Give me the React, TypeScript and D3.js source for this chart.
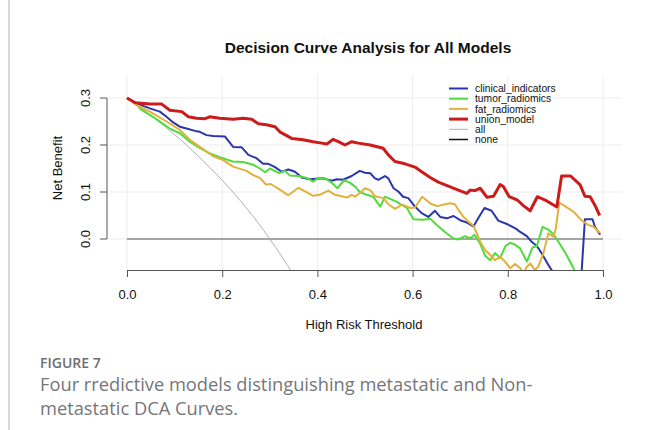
// App.tsx - Decision curve analysis chart drawn with D3
import { useEffect, useRef } from 'react';
import * as d3 from 'd3';

type Pt = [number, number]; // [threshold, net benefit]

// Values
const clinicalIndicators: Pt[] = [
    [0, 0.300], [0.024, 0.287], [0.048, 0.278], [0.069, 0.271], [0.083, 0.260], [0.097, 0.248],
    [0.111, 0.239], [0.125, 0.235], [0.143, 0.230], [0.153, 0.228], [0.167, 0.221], [0.181, 0.219],
    [0.206, 0.218], [0.223, 0.196], [0.241, 0.195], [0.255, 0.179], [0.272, 0.172], [0.286, 0.160],
    [0.297, 0.160], [0.311, 0.153], [0.325, 0.143], [0.339, 0.148], [0.353, 0.143], [0.367, 0.131],
    [0.384, 0.127], [0.412, 0.129], [0.430, 0.124], [0.441, 0.127], [0.454, 0.126], [0.472, 0.134],
    [0.489, 0.145], [0.500, 0.141], [0.511, 0.140], [0.521, 0.129], [0.528, 0.126], [0.542, 0.134],
    [0.549, 0.129], [0.560, 0.108], [0.570, 0.101], [0.580, 0.090], [0.591, 0.087], [0.605, 0.069],
    [0.619, 0.055], [0.633, 0.047], [0.647, 0.060], [0.658, 0.047], [0.672, 0.044], [0.686, 0.049],
    [0.700, 0.040], [0.714, 0.035], [0.728, 0.027], [0.740, 0.048], [0.751, 0.066], [0.766, 0.060],
    [0.780, 0.039], [0.798, 0.032], [0.817, 0.022], [0.826, 0.015], [0.840, 0.006], [0.850, -0.006],
    [0.861, -0.015], [0.871, -0.030], [0.885, -0.055], [0.896, -0.072], [0.910, -0.110], [0.930, -0.150],
    [0.952, -0.120], [0.962, 0.042], [0.978, 0.042], [0.983, 0.026], [0.994, 0.009],
];

const tumorRadiomics: Pt[] = [
    [0, 0.300], [0.017, 0.290], [0.029, 0.276], [0.048, 0.264], [0.069, 0.250], [0.090, 0.235],
    [0.111, 0.225], [0.132, 0.207], [0.153, 0.194], [0.174, 0.182], [0.195, 0.174], [0.222, 0.165],
    [0.244, 0.164], [0.265, 0.158], [0.279, 0.150], [0.290, 0.142], [0.300, 0.150], [0.320, 0.140],
    [0.332, 0.145], [0.342, 0.135], [0.360, 0.134], [0.378, 0.130], [0.391, 0.122], [0.402, 0.130],
    [0.416, 0.129], [0.430, 0.120], [0.442, 0.108], [0.456, 0.125], [0.468, 0.120], [0.480, 0.111],
    [0.489, 0.100], [0.504, 0.094], [0.517, 0.090], [0.532, 0.069], [0.542, 0.090], [0.567, 0.079],
    [0.588, 0.066], [0.602, 0.042], [0.622, 0.041], [0.637, 0.043], [0.651, 0.030], [0.668, 0.015],
    [0.686, 0.001], [0.696, -0.001], [0.710, 0.006], [0.721, 0.001], [0.730, 0.009], [0.742, -0.010],
    [0.752, -0.035], [0.763, -0.045], [0.773, -0.030], [0.784, -0.040], [0.795, -0.015], [0.805, -0.008],
    [0.815, -0.012], [0.826, -0.020], [0.840, -0.048], [0.852, -0.018], [0.861, -0.015], [0.873, 0.026],
    [0.885, 0.020], [0.896, 0.010], [0.912, -0.015], [0.924, -0.035], [0.941, -0.068], [0.960, -0.110],
];

const fatRadiomics: Pt[] = [
    [0, 0.300], [0.020, 0.285], [0.048, 0.271], [0.083, 0.250], [0.111, 0.232], [0.132, 0.211],
    [0.153, 0.196], [0.181, 0.176], [0.202, 0.168], [0.223, 0.154], [0.251, 0.145], [0.265, 0.136],
    [0.279, 0.130], [0.292, 0.116], [0.302, 0.117], [0.321, 0.105], [0.339, 0.093], [0.360, 0.109],
    [0.378, 0.099], [0.391, 0.092], [0.405, 0.094], [0.423, 0.103], [0.437, 0.094], [0.451, 0.091],
    [0.462, 0.088], [0.472, 0.094], [0.479, 0.090], [0.493, 0.101], [0.500, 0.108], [0.511, 0.104],
    [0.521, 0.091], [0.539, 0.087], [0.549, 0.074], [0.563, 0.064], [0.578, 0.073], [0.595, 0.066],
    [0.605, 0.067], [0.620, 0.090], [0.638, 0.075], [0.652, 0.070], [0.668, 0.074], [0.679, 0.076],
    [0.689, 0.074], [0.696, 0.062], [0.707, 0.047], [0.717, 0.037], [0.728, 0.028], [0.735, 0.012],
    [0.742, -0.006], [0.752, -0.023], [0.763, -0.034], [0.773, -0.045], [0.784, -0.038], [0.794, -0.048],
    [0.805, -0.062], [0.815, -0.053], [0.826, -0.062], [0.833, -0.072], [0.840, -0.059], [0.847, -0.052],
    [0.857, -0.066], [0.864, -0.059], [0.875, -0.030], [0.885, 0.012], [0.896, 0.005], [0.901, 0.023],
    [0.908, 0.077], [0.917, 0.072], [0.938, 0.058], [0.955, 0.040], [0.969, 0.030], [0.980, 0.026],
    [0.994, 0.013],
];

const unionModel: Pt[] = [
    [0, 0.300], [0.017, 0.290], [0.048, 0.287], [0.073, 0.287], [0.090, 0.274], [0.115, 0.271],
    [0.129, 0.260], [0.146, 0.257], [0.164, 0.256], [0.174, 0.260], [0.195, 0.257], [0.223, 0.255],
    [0.244, 0.257], [0.262, 0.255], [0.276, 0.245], [0.293, 0.243], [0.311, 0.239], [0.321, 0.228],
    [0.346, 0.214], [0.370, 0.211], [0.391, 0.207], [0.409, 0.204], [0.420, 0.202], [0.433, 0.212],
    [0.444, 0.207], [0.458, 0.200], [0.472, 0.207], [0.486, 0.204], [0.511, 0.200], [0.538, 0.193],
    [0.549, 0.179], [0.563, 0.165], [0.584, 0.160], [0.605, 0.153], [0.619, 0.143], [0.637, 0.131],
    [0.654, 0.121], [0.679, 0.111], [0.696, 0.104], [0.714, 0.097], [0.721, 0.104], [0.731, 0.103],
    [0.742, 0.108], [0.756, 0.089], [0.770, 0.091], [0.784, 0.116], [0.791, 0.111], [0.803, 0.090],
    [0.820, 0.083], [0.834, 0.070], [0.847, 0.060], [0.862, 0.090], [0.882, 0.081], [0.903, 0.068],
    [0.913, 0.134], [0.932, 0.134], [0.952, 0.115], [0.962, 0.091], [0.973, 0.090], [0.983, 0.072],
    [0.993, 0.050],
];

const treatAll: Pt[] = [
    [0, 0.300], [0.025, 0.282], [0.05, 0.263], [0.075, 0.243], [0.10, 0.222], [0.125, 0.200],
    [0.15, 0.176], [0.175, 0.151], [0.20, 0.125], [0.225, 0.097], [0.25, 0.067], [0.275, 0.035],
    [0.30, 0.000], [0.325, -0.037], [0.35, -0.077], [0.375, -0.120],
];

const treatNone: Pt[] = [[0, 0], [1, 0]];

const xTicks = [0, 0.2, 0.4, 0.6, 0.8, 1.0];
const yTicks = [0, 0.1, 0.2, 0.3];

const legendLabels = ['clinical_indicators', 'tumor_radiomics', 'fat_radiomics', 'union_model', 'all', 'none'];

const App = () => {
    const svgRef = useRef<SVGSVGElement>(null);

    useEffect(() => {
        if (!svgRef.current) return;
        const svg = d3.select(svgRef.current);
        svg.selectAll('*').remove();

        const font = '"Liberation Sans", Arial, sans-serif';

        // Plot region (R style: axes at the edges of the region)
        const plot = { left: 108, right: 622, top: 75, bottom: 270 };
        const x = d3.scaleLinear().domain([0, 1]).range([127, 603]);
        const y = d3.scaleLinear().domain([0, 0.3]).range([239, 98]);

        svg.append('rect').attr('width', 645).attr('height', 430).attr('fill', 'white');

        // left border of the figure panel
        svg.append('line')
            .attr('x1', 9).attr('x2', 9).attr('y1', 0).attr('y2', 430)
            .attr('stroke', '#d9d9d9').attr('stroke-width', 2);

        // Title
        svg.append('text')
            .attr('x', 368).attr('y', 53)
            .attr('text-anchor', 'middle')
            .style('font', `bold 15.5px ${font}`)
            .attr('fill', '#111')
            .text('Decision Curve Analysis for All Models');

        // Grid
        const grid = svg.append('g').attr('stroke', '#ededed').attr('stroke-width', 1);
        grid.selectAll('line.v').data(xTicks).join('line')
            .attr('x1', d => x(d)).attr('x2', d => x(d))
            .attr('y1', plot.top).attr('y2', plot.bottom);
        grid.selectAll('line.h').data(yTicks).join('line')
            .attr('x1', plot.left).attr('x2', plot.right)
            .attr('y1', d => y(d)).attr('y2', d => y(d));

        // Clip to plot region
        svg.append('clipPath').attr('id', 'plot-clip')
            .append('rect')
            .attr('x', plot.left).attr('y', plot.top)
            .attr('width', plot.right - plot.left).attr('height', plot.bottom - plot.top);

        const line = d3.line<Pt>().x(d => x(d[0])).y(d => y(d[1]));
        const curves = svg.append('g').attr('clip-path', 'url(#plot-clip)').attr('fill', 'none')
            .attr('stroke-linejoin', 'round');

        curves.append('path').datum(treatNone).attr('d', line)
            .attr('stroke', '#555').attr('stroke-width', 1.2);
        curves.append('path').datum(treatAll)
            .attr('d', d3.line<Pt>().x(d => x(d[0])).y(d => y(d[1])).curve(d3.curveNatural))
            .attr('stroke', '#b0b0b0').attr('stroke-width', 1);

        const series = [
            { data: clinicalIndicators, color: '#2b35ad', width: 2 },
            { data: tumorRadiomics, color: '#4fdc3c', width: 2 },
            { data: fatRadiomics, color: '#e2b13c', width: 2 },
            { data: unionModel, color: '#cc1b1b', width: 3 },
        ];
        series.forEach(s => {
            curves.append('path').datum(s.data).attr('d', line)
                .attr('stroke', s.color).attr('stroke-width', s.width);
        });

        // X axis
        const xAxis = svg.append('g')
            .attr('transform', `translate(0,${plot.bottom})`)
            .call(d3.axisBottom(x).tickValues(xTicks).tickSize(7).tickSizeOuter(0).tickPadding(13)
                .tickFormat(d3.format('.1f')));
        xAxis.select('.domain').attr('stroke', '#555');
        xAxis.selectAll('line').attr('stroke', '#555');
        xAxis.selectAll('text').style('font', `13px ${font}`).attr('fill', '#111');

        // Y axis (labels rotated, R style)
        const yAxis = svg.append('g').attr('stroke', '#555');
        yAxis.append('line')
            .attr('x1', plot.left - 1).attr('x2', plot.left - 1)
            .attr('y1', y(0)).attr('y2', y(0.3));
        yAxis.selectAll('line.tick').data(yTicks).join('line')
            .attr('x1', plot.left - 8).attr('x2', plot.left - 1)
            .attr('y1', d => y(d)).attr('y2', d => y(d));
        svg.append('g').selectAll('text').data(yTicks).join('text')
            .attr('transform', d => `translate(90,${y(d)}) rotate(-90)`)
            .attr('text-anchor', 'middle')
            .style('font', `13px ${font}`).attr('fill', '#111')
            .text(d => d3.format('.1f')(d));

        // Axis titles
        svg.append('text')
            .attr('x', 364).attr('y', 329).attr('text-anchor', 'middle')
            .style('font', `13px ${font}`).attr('fill', '#111')
            .text('High Risk Threshold');
        svg.append('text')
            .attr('transform', 'translate(62,168) rotate(-90)').attr('text-anchor', 'middle')
            .style('font', `13px ${font}`).attr('fill', '#111')
            .text('Net Benefit');

        // Legend
        const legendColors = ['#2b35ad', '#4fdc3c', '#e2b13c', '#cc1b1b', '#b0b0b0', '#111'];
        const legendWidths = [2, 2, 2, 3, 1, 1.5];
        const legend = svg.append('g');
        const rows = legend.selectAll('g').data(legendLabels).join('g')
            .attr('transform', (_, i) => `translate(0,${88.5 + i * 10.2})`);
        rows.append('line')
            .attr('x1', 449).attr('x2', 468)
            .attr('stroke', (_, i) => legendColors[i])
            .attr('stroke-width', (_, i) => legendWidths[i]);
        rows.append('text')
            .attr('x', 475).attr('y', 3.6)
            .style('font', `10.3px ${font}`).attr('fill', '#111')
            .text(d => d);

        // Figure caption
        const capFont = '"Open Sans", "Noto Sans", sans-serif';
        svg.append('text')
            .attr('x', 40).attr('y', 368)
            .style('font', `600 14px ${capFont}`).attr('fill', '#6d6e71')
            .text('FIGURE 7');
        svg.append('text')
            .attr('x', 40).attr('y', 391)
            .style('font', `18.3px ${capFont}`).attr('fill', '#74767a')
            .text('Four rredictive models distinguishing metastatic and Non-');
        svg.append('text')
            .attr('x', 40).attr('y', 414.5)
            .style('font', `18.3px ${capFont}`).attr('fill', '#74767a')
            .text('metastatic DCA Curves.');
    }, []);

    return (
        <div style={{ position: 'absolute', left: 0, top: 0 }}>
            <svg ref={svgRef} width={645} height={430} style={{ display: 'block' }} />
        </div>
    );
};

export default App;
